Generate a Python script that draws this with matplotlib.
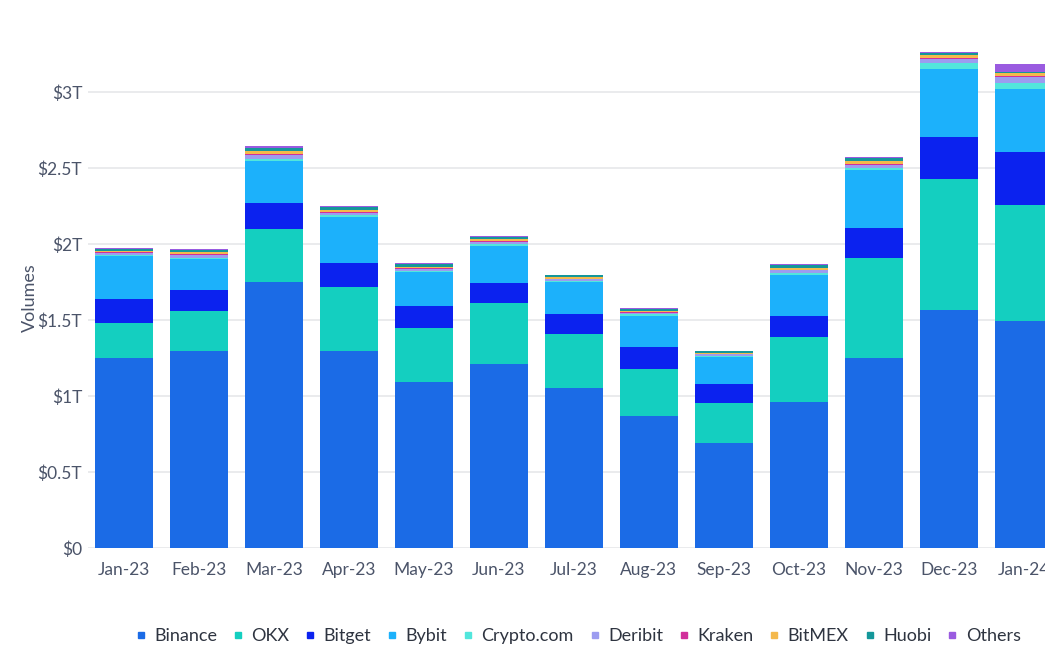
import numpy as np
import matplotlib.pyplot as plt
from matplotlib.lines import Line2D

plt.rcParams['font.family'] = ['Lato', 'DejaVu Sans']

# Monthly volumes in $T
months = ['Jan-23', 'Feb-23', 'Mar-23', 'Apr-23', 'May-23', 'Jun-23', 'Jul-23',
          'Aug-23', 'Sep-23', 'Oct-23', 'Nov-23', 'Dec-23', 'Jan-24']

binance = [1.25, 1.30, 1.75, 1.30, 1.09, 1.21, 1.05, 0.87, 0.69, 0.96, 1.25, 1.565, 1.495]
okx = [0.23, 0.26, 0.35, 0.42, 0.36, 0.40, 0.36, 0.31, 0.265, 0.43, 0.66, 0.865, 0.765]
bitget = [0.16, 0.14, 0.17, 0.155, 0.14, 0.135, 0.13, 0.14, 0.125, 0.14, 0.195, 0.275, 0.35]
bybit = [0.28, 0.20, 0.28, 0.305, 0.225, 0.245, 0.21, 0.21, 0.18, 0.27, 0.385, 0.445, 0.41]
cryptocom = [0.008, 0.010, 0.012, 0.010, 0.008, 0.010, 0.008, 0.008, 0.006, 0.010, 0.012, 0.040, 0.040]
deribit = [0.015, 0.020, 0.025, 0.018, 0.015, 0.017, 0.013, 0.012, 0.010, 0.018, 0.022, 0.030, 0.040]
kraken = [0.003, 0.004, 0.005, 0.004, 0.003, 0.003, 0.003, 0.003, 0.002, 0.004, 0.005, 0.005, 0.005]
bitmex = [0.012, 0.014, 0.020, 0.014, 0.012, 0.013, 0.010, 0.010, 0.008, 0.014, 0.018, 0.020, 0.025]
huobi = [0.012, 0.015, 0.023, 0.017, 0.015, 0.015, 0.011, 0.012, 0.010, 0.016, 0.020, 0.015, 0.005]
others = [0.005, 0.007, 0.010, 0.007, 0.007, 0.007, 0.005, 0.005, 0.004, 0.008, 0.008, 0.005, 0.050]

names = ['Binance', 'OKX', 'Bitget', 'Bybit', 'Crypto.com', 'Deribit', 'Kraken',
         'BitMEX', 'Huobi', 'Others']
series = [binance, okx, bitget, bybit, cryptocom, deribit, kraken, bitmex, huobi, others]
colors = ['#1b6be6', '#14cfc0', '#0b22ef', '#1cb1fb', '#52e6dc', '#9c9cf0',
          '#d1309b', '#f4b94c', '#14979a', '#9a5be0']

yticks = [0, 0.5, 1, 1.5, 2, 2.5, 3]
ytick_labels = ['$0', '$0.5T', '$1T', '$1.5T', '$2T', '$2.5T', '$3T']

fig = plt.figure(figsize=(10.45, 6.46), dpi=100)
ax = fig.add_axes([0.084, 0.1517, 0.916, 0.776])

x = np.arange(len(months))
bottom = np.zeros(len(months))
for name, vals, c in zip(names, series, colors):
    ax.bar(x, vals, width=0.78, bottom=bottom, color=c, label=name, zorder=3)
    bottom += np.array(vals)

ax.set_xlim(-0.48, 12.28)
ax.set_ylim(0, 3.3)
ax.set_yticks(yticks)
ax.set_yticklabels([t.replace('$', r'\$') for t in ytick_labels])
ax.set_xticks(x)
ax.set_xticklabels(months)
ax.tick_params(axis='both', length=0, labelsize=12.5, colors='#4b5469')
ax.tick_params(axis='x', pad=10)
ax.tick_params(axis='y', pad=4)
ax.grid(axis='y', color='#e6e7ea', linewidth=1.2, zorder=0)
for s in ax.spines.values():
    s.set_visible(False)
ax.set_ylabel('Volumes', fontsize=13, color='#4b5469', labelpad=0)

handles = [Line2D([0], [0], marker='s', linestyle='', markersize=5,
                  markerfacecolor=c, markeredgecolor=c) for c in colors]
fig.legend(handles, names, loc='center', bbox_to_anchor=(0.553, 0.015),
           ncol=10, frameon=False, fontsize=13, handlelength=0.6,
           handletextpad=0.45, columnspacing=0.85, labelcolor='#2e3440')

fig.savefig('out.png', dpi=100)
